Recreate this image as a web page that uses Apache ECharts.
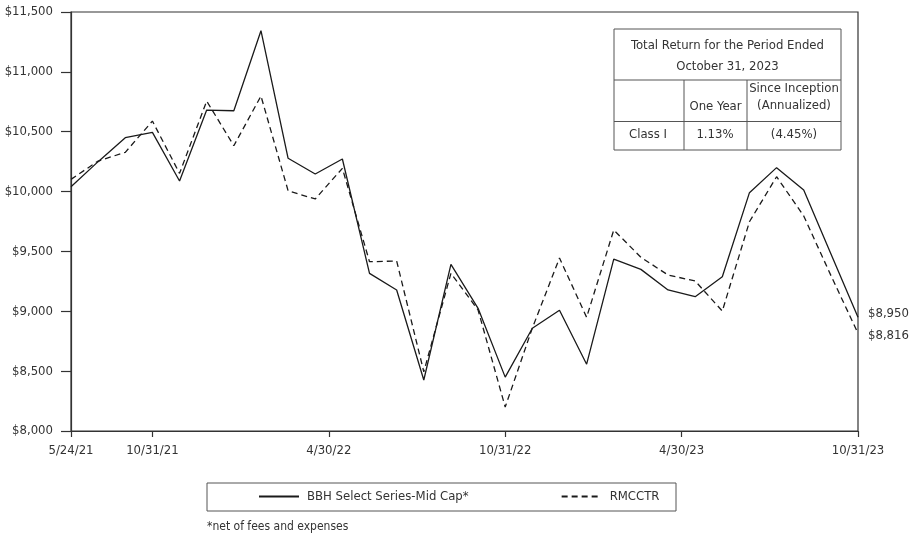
<!DOCTYPE html>
<html><head><meta charset="utf-8">
<script src="https://cdn.jsdelivr.net/npm/echarts@6/dist/echarts.min.js"></script>
<style>html,body{margin:0;padding:0;background:#fff}#c{width:919px;height:538px}</style>
</head><body><div id="c"></div>
<script>
// ---- data ----
const seriesNames = ['BBH Select Series-Mid Cap*', 'RMCCTR'];
const xTickPositions = [0, 3, 9.5, 16, 22.5, 29];
const xTickLabels = ['5/24/21', '10/31/21', '4/30/22', '10/31/22', '4/30/23', '10/31/23'];
const bbh = [10040, 10250, 10450, 10495, 10088, 10681, 10675, 11344, 10278, 10147,
             10272, 9317, 9178, 8426, 9392, 9025, 8450, 8858, 9008, 8558,
             9436, 9350, 9178, 9122, 9289, 9991, 10200, 10013, 9480, 8950];
const rmcctr = [10102, 10255, 10328, 10589, 10152, 10756, 10383, 10798, 10007, 9938,
                10194, 9414, 9420, 8495, 9317, 9011, 8200, 8860, 9445, 8950,
                9679, 9451, 9303, 9253, 9002, 9748, 10124, 9796, 9300, 8816];
const endLabels = ['$8,950', '$8,816'];
const yMin = 8000, yMax = 11500, yStep = 500;
const tableTitle = ['Total Return for the Period Ended', 'October 31, 2023'];
const tableHeaders = ['One Year', 'Since Inception', '(Annualized)'];
const tableRow = ['Class I', '1.13%', '(4.45%)'];
const footnote = '*net of fees and expenses';

// ---- chart ----
const FONT = "'Liberation Sans Narrow', 'DejaVu Sans Condensed', sans-serif";
const TXT = '#333';
const AX = '#333';
const fmtMoney = v => '$' + v.toLocaleString('en-US');
const toPairs = arr => arr.map((v, i) => [i, v]);

const chart = echarts.init(document.getElementById('c'), null, {renderer: 'canvas'});
const tx = 614, ty = 29, tw = 227, th = 121;
const r1 = 80, r2 = 121.5, c1 = 684, c2 = 747;
const tStyle = (text, x, y) => ({type: 'text', x: x, y: y, style: {text: text, fill: TXT, font: '13px ' + FONT, textAlign: 'center', textVerticalAlign: 'middle'}});
const lineEl = (x1, y1, x2, y2) => ({type: 'line', shape: {x1, y1, x2, y2}, style: {stroke: '#555', lineWidth: 1}});

chart.setOption({
  animation: false,
  textStyle: {fontFamily: FONT},
  grid: {left: 71, right: 61, top: 12, bottom: 107, show: true, borderColor: AX, borderWidth: 1.2, backgroundColor: 'transparent'},
  xAxis: {
    type: 'value', min: 0, max: 29,
    axisLine: {lineStyle: {color: AX, width: 1.2}},
    axisTick: {show: true, customValues: xTickPositions, length: 6, lineStyle: {color: AX, width: 1.2}},
    axisLabel: {customValues: xTickPositions, color: TXT, fontSize: 13, fontFamily: FONT, margin: 13,
      formatter: v => { const i = xTickPositions.indexOf(v); return i >= 0 ? xTickLabels[i] : ''; }},
    splitLine: {show: false}
  },
  yAxis: {
    type: 'value', min: yMin, max: yMax, interval: yStep,
    axisLine: {show: true, lineStyle: {color: AX, width: 1.2}},
    axisTick: {show: true, length: 10, lineStyle: {color: AX, width: 1.2}},
    axisLabel: {color: TXT, fontSize: 13, fontFamily: FONT, margin: 18, formatter: fmtMoney},
    splitLine: {show: false}
  },
  legend: {
    left: 253, top: 485, itemWidth: 40, itemHeight: 14, itemGap: 92,
    textStyle: {color: TXT, fontSize: 13, fontFamily: FONT, padding: [0, 0, 0, 3]},
    itemStyle: {opacity: 0},
    data: seriesNames
  },
  series: [
    {name: seriesNames[0], type: 'line', data: toPairs(bbh), symbol: 'none',
      lineStyle: {color: '#1a1a1a', width: 1.3, type: 'solid'}, itemStyle: {color: '#1a1a1a'},
      endLabel: {show: true, formatter: endLabels[0], color: TXT, fontSize: 13, fontFamily: FONT, distance: 10, offset: [0, -4]}},
    {name: seriesNames[1], type: 'line', data: toPairs(rmcctr), symbol: 'none',
      lineStyle: {color: '#1a1a1a', width: 1.3, type: [6, 4]}, itemStyle: {color: '#1a1a1a'},
      endLabel: {show: true, formatter: endLabels[1], color: TXT, fontSize: 13, fontFamily: FONT, distance: 10, offset: [0, 2]}}
  ],
  graphic: [
    {type: 'rect', shape: {x: 207, y: 483, width: 469, height: 28}, style: {fill: 'none', stroke: '#555', lineWidth: 1}},
    {type: 'text', x: 207, y: 527, style: {text: footnote, fill: TXT, font: '12px ' + FONT, textVerticalAlign: 'middle'}},
    {type: 'rect', shape: {x: tx, y: ty, width: tw, height: th}, style: {fill: '#fff', stroke: '#555', lineWidth: 1}},
    lineEl(tx, r1, tx + tw, r1),
    lineEl(tx, r2, tx + tw, r2),
    lineEl(c1, r1, c1, ty + th),
    lineEl(c2, r1, c2, ty + th),
    tStyle(tableTitle[0], 727.5, 45.5),
    tStyle(tableTitle[1], 727.5, 66.5),
    tStyle(tableHeaders[0], 715.5, 106.5),
    tStyle(tableHeaders[1], 794, 89),
    tStyle(tableHeaders[2], 794, 106),
    tStyle(tableRow[0], 648, 135),
    tStyle(tableRow[1], 715, 135),
    tStyle(tableRow[2], 794, 135)
  ]
});
</script></body></html>
